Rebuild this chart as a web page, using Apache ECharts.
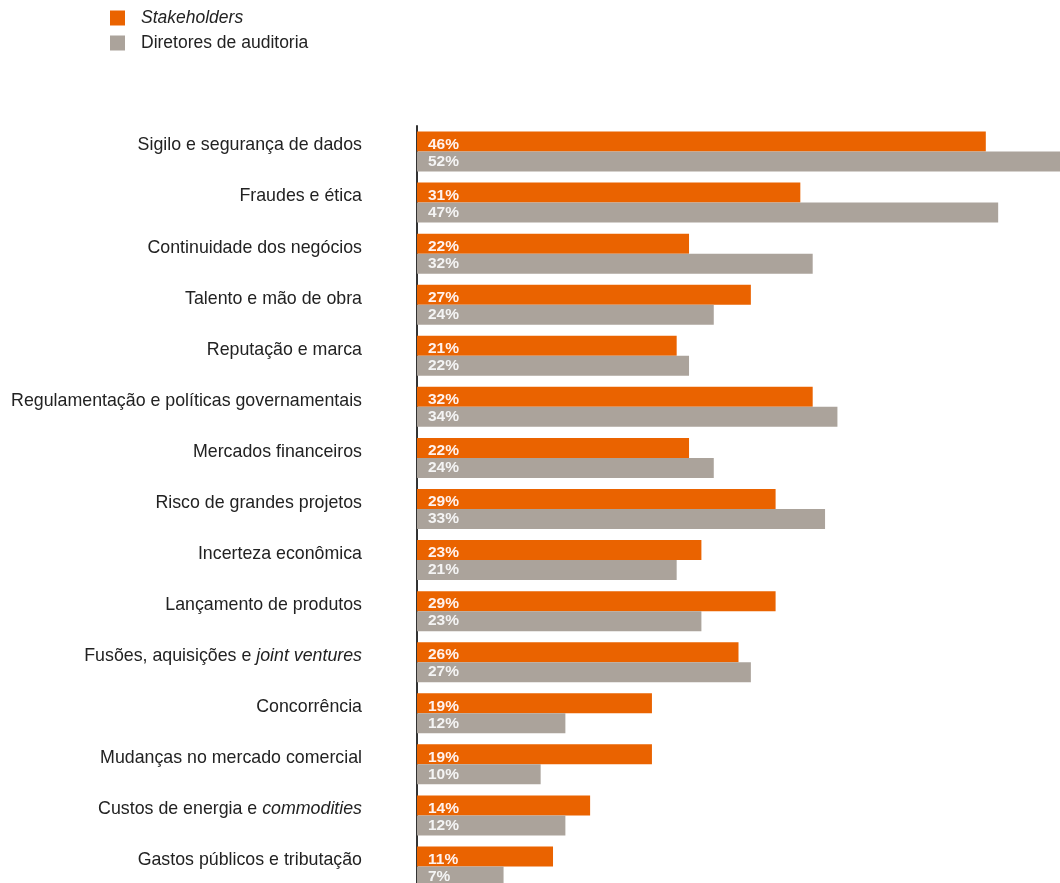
<!DOCTYPE html>
<html>
<head>
<meta charset="utf-8">
<script src="https://cdn.jsdelivr.net/npm/echarts@6/dist/echarts.min.js"></script>
<style>html,body{margin:0;padding:0;background:#fff;overflow:hidden}#c{width:1060px;height:910px}</style>
</head>
<body>
<div id="c"></div>
<script>
const categories = ['Sigilo e segurança de dados','Fraudes e ética','Continuidade dos negócios','Talento e mão de obra','Reputação e marca','Regulamentação e políticas governamentais','Mercados financeiros','Risco de grandes projetos','Incerteza econômica','Lançamento de produtos','Fusões, aquisições e joint ventures','Concorrência','Mudanças no mercado comercial','Custos de energia e commodities','Gastos públicos e tributação'];
const stakeholders = [46,31,22,27,21,32,22,29,23,29,26,19,19,14,11];
const diretores = [52,47,32,24,22,34,24,33,21,23,27,12,10,12,7];
const italicTerms = ['joint ventures','commodities'];

const chart = echarts.init(document.getElementById('c'));
const font = 'Liberation Sans, Arial, sans-serif';
chart.setOption({
  animation: false,
  textStyle: {fontFamily: font},
  legend: {
    orient: 'vertical', left: 110, top: 9, padding: 0, itemWidth: 15, itemHeight: 15, itemGap: 7,
    icon: 'rect',
    textStyle: {fontSize: 17.5, color: '#222', fontFamily: font, padding: [0,0,0,11],
      rich: {i: {fontStyle: 'italic', fontSize: 17.5, color: '#222', fontFamily: font}}},
    formatter: n => n === 'Stakeholders' ? '{i|Stakeholders}' : n,
    data: ['Stakeholders','Diretores de auditoria']
  },
  grid: {left: 417, top: 126, width: 643, height: 766},
  xAxis: {type: 'value', min: 0, max: 52, show: false},
  yAxis: {
    type: 'category', data: categories, inverse: true,
    axisLine: {show: true, lineStyle: {color: '#333', width: 2}},
    axisTick: {show: false},
    axisLabel: {
      fontSize: 17.8, color: '#222', margin: 55, padding: [0,0,12,0], fontFamily: font,
      rich: {i: {fontStyle: 'italic', fontSize: 17.8, color: '#222', fontFamily: font}},
      formatter: v => { let s = v; italicTerms.forEach(t => { s = s.replace(t, '{i|' + t + '}'); }); return s; }
    }
  },
  series: [
    {name: 'Stakeholders', type: 'bar', data: stakeholders, barWidth: 20, barGap: '0%',
     itemStyle: {color: '#EA6300'},
     label: {show: true, position: 'insideLeft', distance: 11, offset: [0,3], formatter: '{c}%', color: '#fff2ee', fontWeight: 'bold', fontSize: 15.5, fontFamily: font}},
    {name: 'Diretores de auditoria', type: 'bar', data: diretores, barWidth: 20, barGap: '0%',
     itemStyle: {color: '#ABA39B'},
     label: {show: true, position: 'insideLeft', distance: 11, formatter: '{c}%', color: '#f4f4f4', fontWeight: 'bold', fontSize: 15.5, fontFamily: font}}
  ]
});
</script>
</body>
</html>
